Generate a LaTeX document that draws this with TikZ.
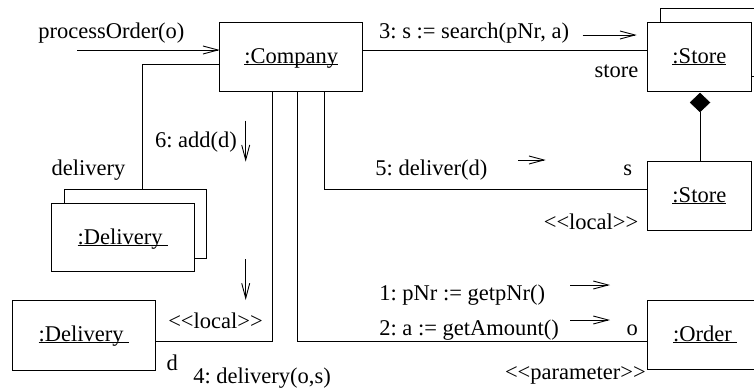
\documentclass[tikz,border=0pt]{standalone}
\usepackage{fontspec}
\setmainfont{Liberation Serif}
\newfontfamily\tms{Liberation Serif}
\usetikzlibrary{arrows.meta,shapes.geometric}
\newcommand{\uln}[1]{\setbox0\hbox{#1}\rlap{\rule[-1.8pt]{\wd0}{0.9pt}}\box0}
\newcommand{\stL}{<\kern0pt<}
\newcommand{\stR}{>\kern0pt>}
\frenchspacing
\begin{document}
\begin{tikzpicture}[x=1pt,y=-1pt, line width=0.9pt,
  txt/.style={font=\tms\fontsize{22.5}{27}\selectfont\frenchspacing, inner sep=0pt, outer sep=0pt},
  obj/.style={txt, draw, fill=white, rectangle, text height=15pt, text depth=2pt, anchor=north west},
  lbl/.style={txt, anchor=base west},
  lblr/.style={txt, anchor=base east},
  msg/.style={-{Straight Barb[length=15pt,width=8pt]}},
]
\useasboundingbox (0,0) rectangle (754,389);
\begin{scope}
\clip (0,0) rectangle (754,389);
% back boxes
\node[obj, minimum width=103.3pt, minimum height=68pt] (StoreB) at (660.7,8) {};
\node[obj, minimum width=142.4pt, minimum height=69.3pt] (DelB) at (64.3,189) {};
% objects
\node[obj, minimum width=143pt, minimum height=69.4pt] (Company) at (219.7,22.3) {\uln{:Company}};
\node[obj, minimum width=103.3pt, minimum height=68.7pt] (Store1) at (647.7,22.3) {\uln{:Store}};
\node[obj, minimum width=103.3pt, minimum height=68.3pt] (Store2) at (647.7,161.7) {\uln{:Store}};
\node[obj, minimum width=115pt, minimum height=69.3pt] (Order) at (647.7,300) {\uln{:Order\ }};
\node[obj, minimum width=142.3pt, minimum height=68.4pt] (DelF) at (51.7,203.3) {\uln{:Delivery\ }};
\node[obj, minimum width=142.6pt, minimum height=70pt] (DelL) at (12.7,300) {\uln{:Delivery\ }};
\end{scope}
% composition diamond
\node[diamond, draw, fill=black, minimum width=20pt, minimum height=19pt, inner sep=0pt, line width=0.5pt] (dia) at (700,102.5) {};
\draw (dia.south) -- (Store2.north -| dia.south);
% links
\coordinate (po) at (77,50);
\draw[msg] (po) -- (Company.west |- po);
\coordinate (k3) at (0,50);
\draw (Company.east |- k3) -- (Store1.west |- k3);
\coordinate (kd) at (142.7,64);
\draw (kd -| Company.west) -| (DelB.north -| kd);
\coordinate (ka) at (272.7,341.7);
\draw (Company.south -| ka) |- (DelL.east |- ka);
\coordinate (kb) at (297.7,341.7);
\draw (Company.south -| kb) |- (Order.west |- kb);
\coordinate (kc) at (324,189.3);
\draw (Company.south -| kc) |- (Store2.west |- kc);
% message arrows
\coordinate (a3s) at (582.7,35); \coordinate (a3e) at (636.7,35);
\draw[msg] (a3s) -- (a3e);
\coordinate (a6s) at (245.7,120.7); \coordinate (a6e) at (245.7,161.7);
\draw[msg] (a6s) -- (a6e);
\coordinate (a5s) at (518,160); \coordinate (a5e) at (545.7,160);
\draw[msg] (a5s) -- (a5e);
\coordinate (a1s) at (570,285); \coordinate (a1e) at (610,285);
\draw[msg] (a1s) -- (a1e);
\coordinate (a2s) at (570,320); \coordinate (a2e) at (610,320);
\draw[msg] (a2s) -- (a2e);
\coordinate (a4s) at (245.7,259.3); \coordinate (a4e) at (245.7,300);
\draw[msg] (a4s) -- (a4e);
% labels
\node[lbl] (tpo) at (38.3,38) {processOrder(o)};
\node[lblr] (t3) at (569,38) {3: s := search(pNr, a)};
\node[lblr] (tstore) at (638.3,77) {store};
\node[lbl] (t6) at (155,147) {6: add(d)};
\node[lbl] (tdel) at (51.7,175) {delivery};
\node[lblr] (t5) at (487.3,175) {5: deliver(d)};
\node[lbl] (ts) at (623.3,175) {s};
\node[lblr] (tloc1) at (638.3,229) {\stL local\stR};
\node[lbl] (t1) at (379.3,300.5) {1: pNr := getpNr()};
\node[lbl] (t2) at (379.3,335) {2: a := getAmount()};
\node[lbl] (to) at (626.7,335) {o};
\node[lbl] (tpar) at (505,379.3) {\stL parameter\stR};
\node[lbl] (tloc2) at (168.3,328.3) {\stL local\stR};
\node[lbl] (td) at (166.7,370) {d};
\node[lbl] (t4) at (193.3,383.3) {4: delivery(o,s)};
\end{tikzpicture}
\end{document}
